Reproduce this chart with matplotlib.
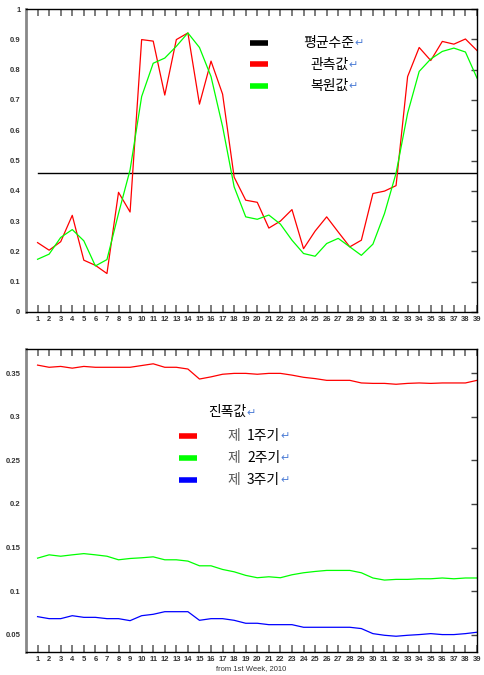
import numpy as np
import matplotlib
matplotlib.use('Agg')
import matplotlib.pyplot as plt

plt.rcParams['font.family'] = ['Noto Sans CJK KR', 'DejaVu Sans']

weeks = np.arange(1, 40)

# top panel
observed = [0.229, 0.204, 0.232, 0.319, 0.171, 0.154, 0.127, 0.395, 0.330, 0.899,
            0.894, 0.716, 0.899, 0.921, 0.686, 0.828, 0.719, 0.445, 0.369, 0.362,
            0.277, 0.300, 0.338, 0.209, 0.267, 0.314, 0.264, 0.215, 0.237, 0.391,
            0.399, 0.417, 0.777, 0.873, 0.830, 0.893, 0.884, 0.901, 0.863]
restored = [0.174, 0.191, 0.246, 0.272, 0.235, 0.152, 0.173, 0.325, 0.469, 0.711,
            0.821, 0.838, 0.877, 0.921, 0.873, 0.777, 0.612, 0.413, 0.314, 0.306,
            0.320, 0.290, 0.237, 0.193, 0.184, 0.226, 0.243, 0.215, 0.187, 0.224,
            0.325, 0.458, 0.656, 0.794, 0.835, 0.860, 0.871, 0.858, 0.772]
mean_level = 0.4575
top_labels = ['평균수준', '관측값', '복원값']

# bottom panel - amplitudes
amp1 = [0.3595, 0.357, 0.358, 0.356, 0.358, 0.357, 0.357, 0.357, 0.357, 0.359,
        0.361, 0.357, 0.357, 0.355, 0.3435, 0.346, 0.349, 0.350, 0.350, 0.349,
        0.350, 0.350, 0.348, 0.3455, 0.344, 0.342, 0.342, 0.342, 0.339, 0.3385,
        0.3385, 0.3375, 0.3385, 0.339, 0.3385, 0.339, 0.339, 0.339, 0.342]
amp2 = [0.1378, 0.1416, 0.140, 0.1416, 0.143, 0.1416, 0.140, 0.1359, 0.1374, 0.1382,
        0.1393, 0.1359, 0.1359, 0.1344, 0.129, 0.129, 0.1248, 0.1221, 0.118, 0.1153,
        0.1164, 0.1153, 0.1187, 0.121, 0.1225, 0.1237, 0.1237, 0.1237, 0.121, 0.115,
        0.1126, 0.1134, 0.1134, 0.1141, 0.1141, 0.115, 0.1141, 0.115, 0.115]
amp3 = [0.0706, 0.0683, 0.0683, 0.0717, 0.0698, 0.0698, 0.0683, 0.0683, 0.066, 0.0717,
        0.0733, 0.0763, 0.0763, 0.0763, 0.0664, 0.0683, 0.0683, 0.0664, 0.063, 0.063,
        0.0614, 0.0614, 0.0614, 0.0584, 0.0584, 0.0584, 0.0584, 0.0584, 0.0569, 0.0511,
        0.0492, 0.0481, 0.0492, 0.050, 0.0511, 0.050, 0.050, 0.0511, 0.0527]
amp_title = '진폭값'
amp_labels = ['1주기', '2주기', '3주기']

RED, GREEN, BLUE = '#ff0000', '#00ff00', '#0000ff'
ARROW = '#4f7fd6'
tickfont = dict(family='Liberation Sans', size=5.5, weight='bold', color='#333333')

fig = plt.figure(figsize=(4.85, 6.75), dpi=100)
ax1 = fig.add_axes([26/485, 1-312/675, 451/485, 303/675])
ax2 = fig.add_axes([26/485, 1-652/675, 451/485, 303/675])


def style(ax):
    ax.set_xlim(0, 39)
    ax.set_xticks(weeks)
    ax.set_xticklabels([str(w) for w in weeks], fontdict=tickfont)
    ax.tick_params(axis='x', direction='in', top=True, length=5, width=1.2,
                   color='#666666', pad=3)
    ax.tick_params(axis='y', direction='in', left=False, right=True, length=4,
                   width=1, color='#444444', pad=4)
    for s in ['top', 'right', 'bottom']:
        ax.spines[s].set_linewidth(1.0)
    ax.spines['left'].set_color('#888888')
    ax.spines['left'].set_linewidth(2)


# top chart
ax1.plot(weeks, [mean_level] * len(weeks), color='black', lw=1.0)
ax1.plot(weeks, observed, color=RED, lw=0.9)
ax1.plot(weeks, restored, color=GREEN, lw=0.9)
ax1.set_ylim(0, 1)
yt = np.round(np.arange(0, 1.01, 0.1), 1)
ax1.set_yticks(yt)
ax1.set_yticklabels(['%g' % v for v in yt], fontdict=tickfont)
style(ax1)

for i, (lab, c) in enumerate(zip(top_labels, ['black', RED, GREEN])):
    y = 0.888 - i * 0.071
    ax1.plot([0.497, 0.537], [y, y], color=c, lw=4, transform=ax1.transAxes,
             solid_capstyle='butt')
    t = ax1.text(0.672, y, lab, transform=ax1.transAxes, ha='center',
                 va='center', fontsize=10)
    ax1.annotate('↵', xy=(1, 0.1), xycoords=t, color=ARROW, fontsize=8,
                 va='bottom', ha='left', family='DejaVu Sans')

# bottom chart
ax2.plot(weeks, amp1, color=RED, lw=0.9)
ax2.plot(weeks, amp2, color=GREEN, lw=0.9)
ax2.plot(weeks, amp3, color=BLUE, lw=0.9)
ax2.set_ylim(0.03, 0.378)
yt2 = [0.05, 0.1, 0.15, 0.2, 0.25, 0.3, 0.35]
ax2.set_yticks(yt2)
ax2.set_yticklabels(['%g' % v for v in yt2], fontdict=tickfont)
style(ax2)
ax2.set_xlabel('from 1st Week, 2010', fontdict=dict(family='Liberation Sans',
               size=5.5, color='#333333'), labelpad=1)

tt = ax2.text(0.404, 0.792, amp_title, transform=ax2.transAxes, ha='left',
              va='center', fontsize=10)
ax2.annotate('↵', xy=(1, 0.1), xycoords=tt, color=ARROW, fontsize=8,
             va='bottom', ha='left', family='DejaVu Sans')
for i, (lab, c) in enumerate(zip(amp_labels, [RED, GREEN, BLUE])):
    y = 0.713 - i * 0.0725
    ax2.plot([0.339, 0.379], [y, y], color=c, lw=4, transform=ax2.transAxes,
             solid_capstyle='butt')
    ax2.text(0.446, y, '제', transform=ax2.transAxes, ha='left', va='center',
             fontsize=10, color='#555555', style='italic')
    t = ax2.text(0.490, y, lab, transform=ax2.transAxes, ha='left',
                 va='center', fontsize=10)
    ax2.annotate('↵', xy=(1, 0.1), xycoords=t, color=ARROW, fontsize=8,
                 va='bottom', ha='left', family='DejaVu Sans')

plt.savefig('out.png', dpi=100)
